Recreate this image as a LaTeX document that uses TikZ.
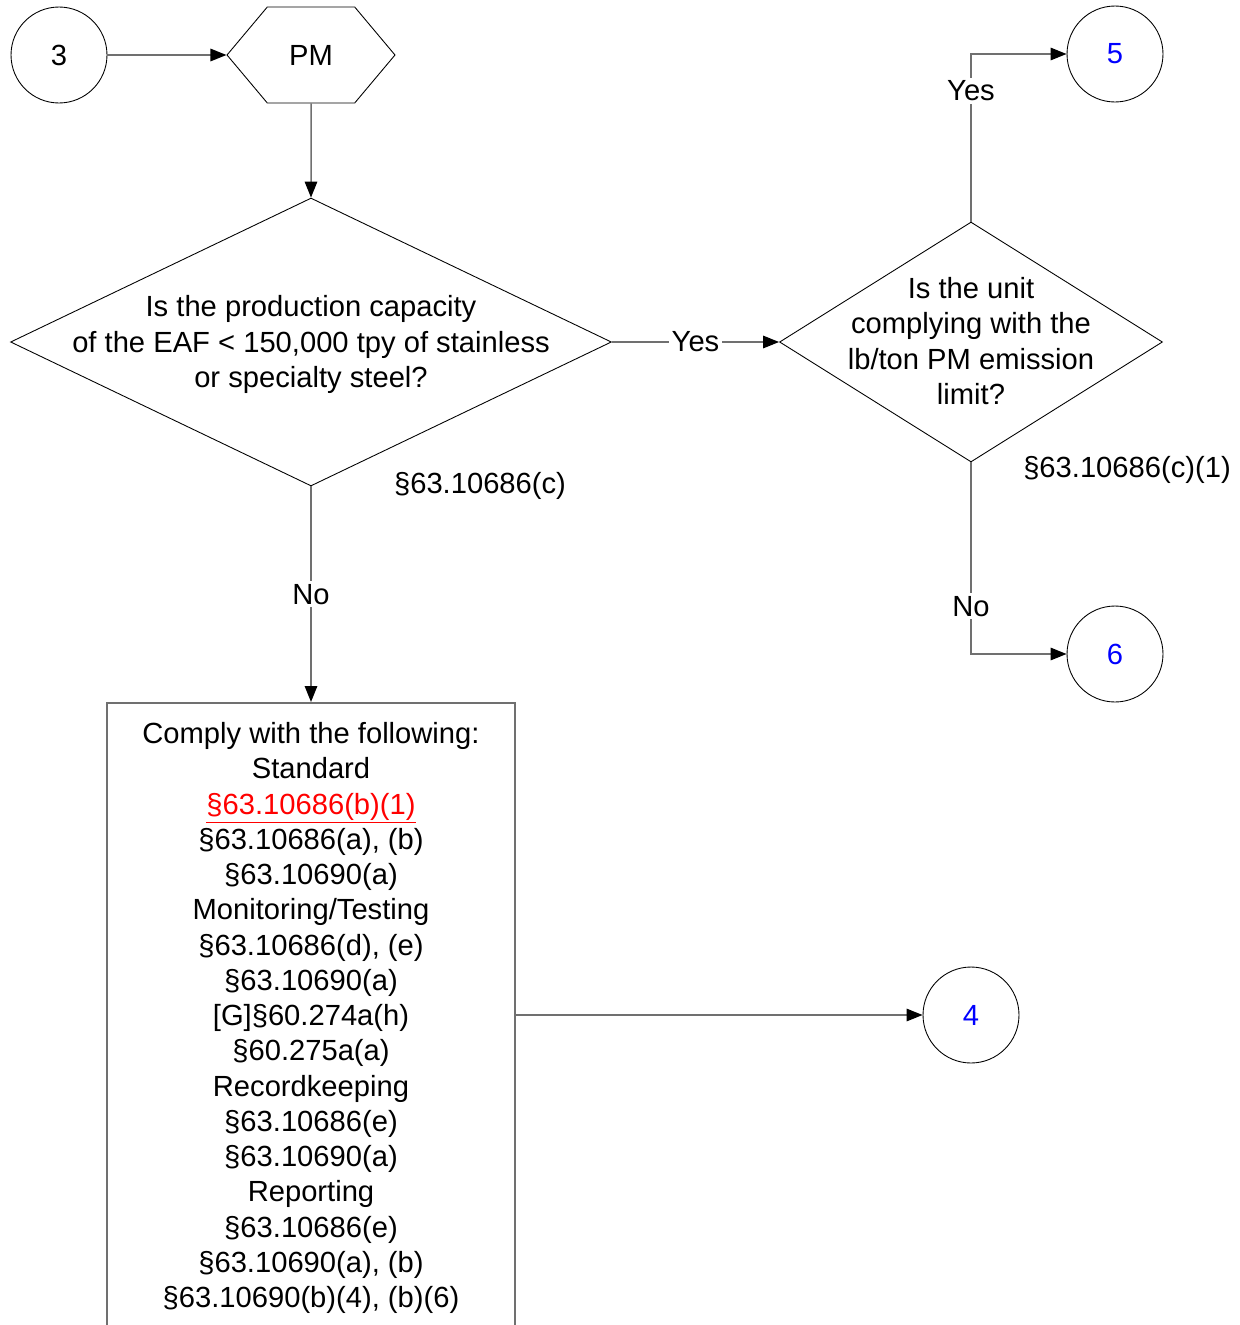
\documentclass[tikz,border=0pt]{standalone}
\usepackage{fontspec}
\setmainfont{Liberation Sans}
\usetikzlibrary{positioning, arrows.meta, shapes.geometric, shapes.symbols, calc}
\definecolor{wire}{RGB}{112,112,112}
\definecolor{linkblue}{RGB}{0,0,255}
\definecolor{cfrred}{RGB}{255,0,0}

\begin{document}
\begin{tikzpicture}[x=0.02cm, y=-0.02cm, >={Triangle[length=0.32cm, width=0.25cm, color=black]},
        every node/.style={font=\fontsize{16.6}{20.06}\selectfont},
        conn/.style={circle, draw=black, line width=0.5pt, minimum size=1.92cm, inner sep=0pt},
        decision/.style={diamond, draw=black, line width=0.5pt, inner sep=0pt},
        flow/.style={wire, line width=0.85pt},
        lbl/.style={fill=white, text=black, inner sep=1.5pt}]
        \useasboundingbox (0,0) rectangle (1240,1325);

        % Entry connector and PM
        \node[conn] (cThree) at (59,55) {3};
        \node[signal, signal to=west and east, signal pointer angle=100, draw=black, line width=0.5pt,
              minimum width=3.36cm, minimum height=1.92cm, inner sep=0pt] (pm) at (311,55) {PM};

        % Capacity question
        \node[decision, minimum width=12.02cm, minimum height=5.76cm] (qCap) at (311,342) {};
        \node[align=center] (qCapText) at (311,344.5) {Is the production capacity\\ of the EAF < 150,000 tpy of stainless\\ or specialty steel?};
        \node (refCap) at (480,486) {§63.10686(c)};

        % Emission limit question
        \node[decision, minimum width=7.66cm, minimum height=4.8cm] (qLimit) at (971,342) {};
        \node[align=center] (qLimitText) at (971,341) {Is the unit\\ complying with the\\ lb/ton PM emission\\ limit?};
        \node (refLimit) at (1127,470) {§63.10686(c)(1)};

        % Off-page connectors
        \node[conn, text=linkblue] (cFive) at (1115,54) {5};
        \node[conn, text=linkblue] (cSix) at (1115,654) {6};
        \node[conn, text=linkblue] (cFour) at (971,1015) {4};

        % Requirements box
        \node[draw=wire, line width=1.1pt, anchor=north, minimum width=8.16cm, inner xsep=0pt,
              inner ysep=0.39cm, align=center] (comply) at (311,702)
            {Comply with the following:\\ Standard\\ \textcolor{cfrred}{\underline{§63.10686(b)(1)}}\\
             §63.10686(a), (b)\\ §63.10690(a)\\ Monitoring/Testing\\ §63.10686(d), (e)\\ §63.10690(a)\\
             {[G]}§60.274a(h)\\ §60.275a(a)\\ Recordkeeping\\ §63.10686(e)\\ §63.10690(a)\\ Reporting\\
             §63.10686(e)\\ §63.10690(a), (b)\\ §63.10690(b)(4), (b)(6)};

        % Connections
        \draw[flow, ->] (cThree.east) -- (pm.west);
        \draw[flow, ->] (pm) -- (qCap);
        \draw[flow, ->] (qCap) -- node[lbl] {Yes} (qLimit);
        \draw[flow, ->] (qLimit) |- node[lbl, pos=0.39] {Yes} (cFive);
        \draw[flow, ->] (qLimit) |- node[lbl, pos=0.375] {No} (cSix);
        \draw[flow, ->] (qCap) -- node[lbl] {No} (comply);
        \draw[flow, ->] (cFour -| comply.east) -- (cFour);
\end{tikzpicture}
\end{document}
